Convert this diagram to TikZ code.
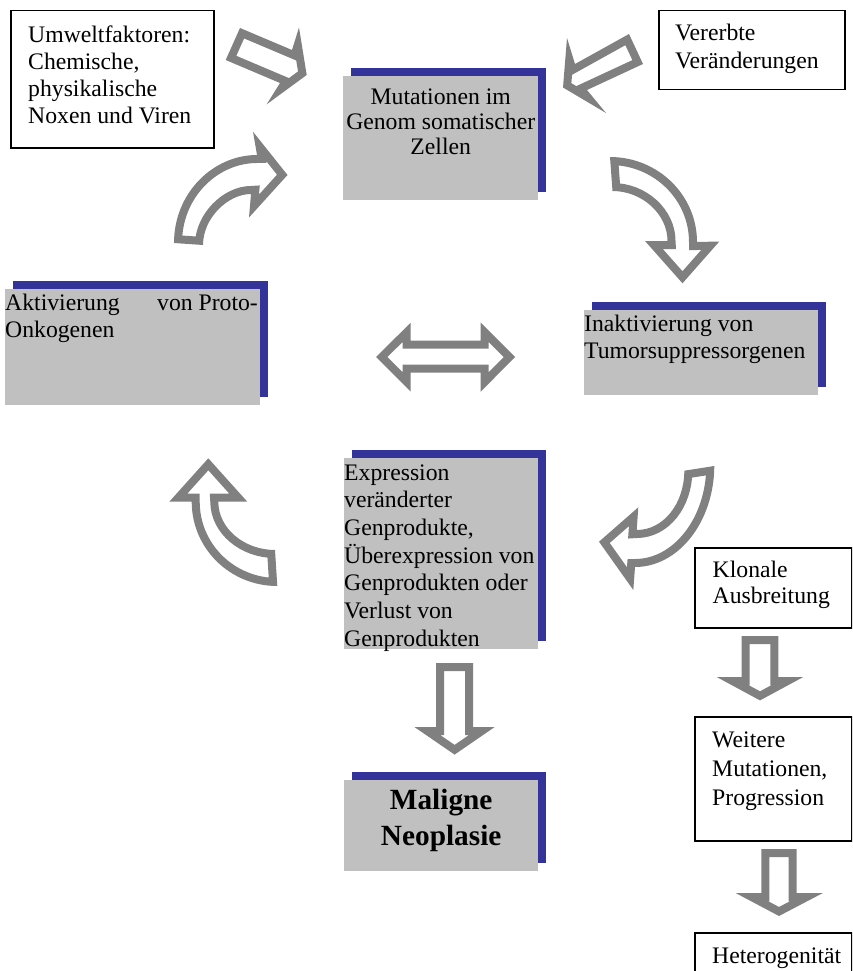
\documentclass[tikz,border=0pt]{standalone}
\usepackage{fontspec}
\setmainfont{Liberation Serif}
\usetikzlibrary{shadows}

\definecolor{boxgray}{HTML}{C0C0C0}
\definecolor{shadowblue}{HTML}{333399}
\definecolor{arrowgray}{HTML}{808080}

% hollow block arrow: outline given as outer edge, band drawn inside
\newcommand{\hollow}[1]{%
  \begin{scope}
    \clip #1;
    \fill[white] #1;
    \draw[arrowline] #1;
  \end{scope}}

\tikzset{
  whitebox/.style={draw, line width=1.5pt, anchor=north west, inner sep=0pt},
  graybox/.style={fill=boxgray, anchor=north west, inner sep=0pt,
    general shadow={fill=shadowblue, shadow xshift=8pt, shadow yshift=8pt}},
  % anchored at the baseline of the last line
  boxtext/.style={inner sep=0pt, align=left, anchor=base west,
    font=\fontsize{23.7}{#1}\selectfont},
  boxtext/.default=27.3,
  arrowline/.style={draw=arrowgray, line width=16pt, line join=miter, miter limit=25}
}

\begin{document}
\begin{tikzpicture}[x=1pt, y=-1pt]
\useasboundingbox (0,0) rectangle (852,971);
\clip (0,0) rectangle (852,971);

% white boxes
\node[whitebox, minimum width=203pt, minimum height=137pt] (umwelt) at (10,10) {};
\node[boxtext=26.7] (umwelt-txt) at ([shift={(18,113.1)}]umwelt.north west)
  {Umweltfaktoren:\\Chemische,\\physikalische\\Noxen und Viren};
\node[whitebox, minimum width=186pt, minimum height=79pt] (vererbt) at (658,10) {};
\node[boxtext=28] (vererbt-txt) at ([shift={(17,59)}]vererbt.north west)
  {Vererbte\\Veränderungen};
\node[whitebox, minimum width=157pt, minimum height=80pt] (klonal) at (694,547) {};
\node[boxtext=26.6] (klonal-txt) at ([shift={(18.5,56.6)}]klonal.north west)
  {Klonale\\Ausbreitung};
\node[whitebox, minimum width=157pt, minimum height=124pt] (weitere) at (694,716) {};
\node[boxtext=29.2] (weitere-txt) at ([shift={(18,89.4)}]weitere.north west)
  {Weitere\\Mutationen,\\Progression};
\node[whitebox, minimum width=157pt, minimum height=60pt] (hetero) at (694,932) {};
\node[boxtext] (hetero-txt) at ([shift={(18,31.5)}]hetero.north west)
  {Heterogenität};

% grey boxes with blue shadow
\node[graybox, minimum width=195pt, minimum height=124pt] (mutation) at (343,76) {};
\node[boxtext=25, align=center, anchor=base] (mutation-txt)
  at ([shift={(0,78)}]mutation.north)
  {Mutationen im\\Genom somatischer\\Zellen};
\node[graybox, minimum width=255pt, minimum height=116pt] (aktiv) at (5,289) {};
\node[boxtext=27] (aktiv-txt) at ([shift={(0,48)}]aktiv.north west)
  {Aktivierung\hspace{31.5pt} von Proto-\\Onkogenen};
\node[graybox, minimum width=234pt, minimum height=85pt] (inaktiv) at (584,310) {};
\node[boxtext=26.3] (inaktiv-txt) at ([shift={(0,48)}]inaktiv.north west)
  {Inaktivierung von\\Tumorsuppressorgenen};
\node[graybox, minimum width=194pt, minimum height=191pt] (express) at (344,458) {};
\node[boxtext=27.7] (express-txt) at ([shift={(0,188.2)}]express.north west)
  {Expression\\veränderter\\Genprodukte,\\Überexpression von\\Genprodukten oder\\Verlust von\\Genprodukten};
\node[graybox, minimum width=194pt, minimum height=91pt] (maligne) at (344,780) {};
\node[inner sep=0pt, align=center, anchor=base,
  font=\fontsize{29.3}{36}\selectfont\bfseries] (maligne-txt)
  at ([shift={(0,65)}]maligne.north) {Maligne\\Neoplasie};

% hollow arrows
\hollow{(240,28) -- (292,50) -- (299,27.5) -- (306.7,75) -- (266.7,104.3)
  -- (280,83) -- (225.7,60) -- cycle}
\hollow{(629,34) -- (643,64) -- (587,90) -- (606,113) -- (563,87.5)
  -- (567,38) -- (575,64) -- cycle}
\hollow{(174,243) .. controls (174,193) and (213,155) .. (257,155)
  -- (253,131.7) -- (287.5,175) -- (249,217.5) -- (251,194)
  .. controls (228,194) and (203,218) .. (203,245) -- cycle}
\hollow{(610,157) .. controls (658,157) and (697,195) .. (697,242)
  -- (719.3,241.5) -- (682.5,283.3) -- (645,241) -- (667.5,241)
  .. controls (667.5,214) and (642,191) .. (612.5,191) -- cycle}
\hollow{(376,357) -- (410.7,322.7) -- (410.7,340.7) -- (480.7,340.7)
  -- (480.7,322.7) -- (515,357) -- (480.7,391.7) -- (480.7,372.7)
  -- (410.7,372.7) -- (410.7,391.7) -- cycle}
\hollow{(208.3,458.3) -- (247.3,501.7) -- (218.3,501.7)
  .. controls (218.3,528.5) and (244.4,550) .. (275,550) -- (277.3,586)
  .. controls (230,586) and (191.7,548.5) .. (191.7,501.7) -- (169.3,501.7) -- cycle}
\hollow{(714.3,466) .. controls (714,521.8) and (678.6,567) .. (635,567)
  -- (633.3,590) -- (599,541.7) -- (638.3,507.3) -- (636.7,530)
  .. controls (663.5,530) and (684.3,503.6) .. (684.3,470.7) -- cycle}
\hollow{(436,663) -- (473,663) -- (473,727) -- (494.7,727) -- (454.6,754.6)
  -- (414.4,727) -- (436,727) -- cycle}
\hollow{(741.7,636) -- (778.3,636) -- (778.3,677) -- (803.3,677) -- (760,700.4)
  -- (716.7,677) -- (741.7,677) -- cycle}
\hollow{(761.3,849) -- (796.5,849) -- (796.5,893) -- (822.9,893) -- (779,916)
  -- (735.6,893) -- (761.3,893) -- cycle}
\end{tikzpicture}
\end{document}
